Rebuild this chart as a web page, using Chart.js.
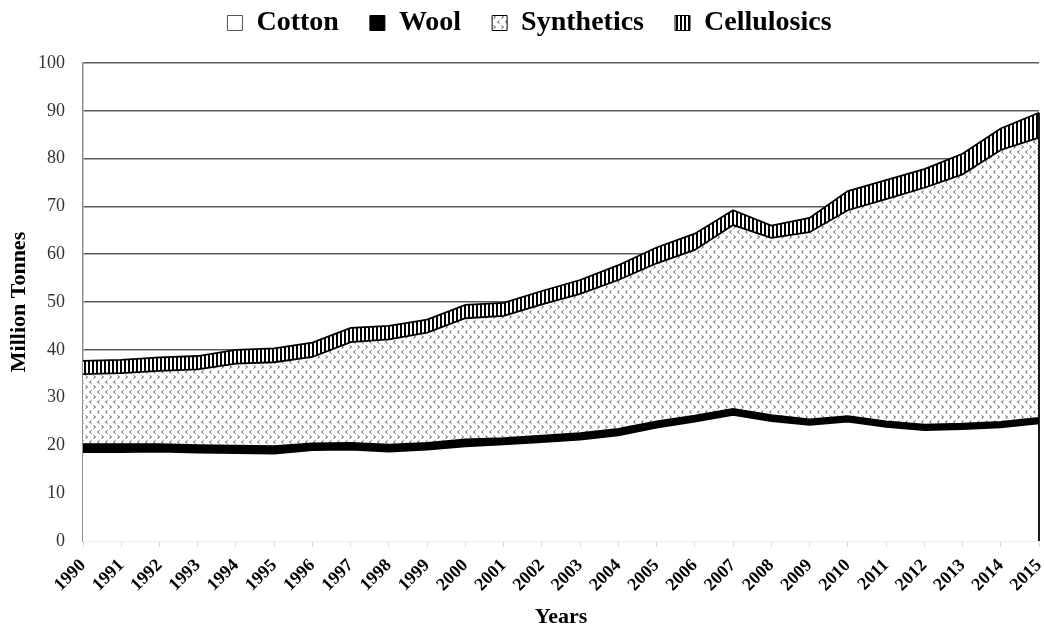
<!DOCTYPE html>
<html>
<head>
<meta charset="utf-8">
<script src="https://cdn.jsdelivr.net/npm/chart.js@4"></script>
<style>
  html, body { margin: 0; padding: 0; background: #fff; }
  #wrap { width: 1044px; height: 632px; }
</style>
</head>
<body>
<div id="wrap"><canvas id="fibreChart" width="1044" height="632"></canvas></div>
<script>
// Data (million tonnes)
const years = ['1990','1991','1992','1993','1994','1995','1996','1997','1998','1999','2000','2001','2002',
               '2003','2004','2005','2006','2007','2008','2009','2010','2011','2012','2013','2014','2015'];
const cotton = [18.6, 18.6, 18.7, 18.5, 18.4, 18.3, 19.0, 19.1, 18.7, 19.1, 19.8, 20.2, 20.7,
                21.2, 22.1, 23.7, 25.0, 26.4, 25.1, 24.3, 25.0, 23.9, 23.2, 23.4, 23.8, 24.6];
const wool = [1.6, 1.6, 1.5, 1.5, 1.5, 1.5, 1.4, 1.4, 1.4, 1.4, 1.4, 1.3, 1.3,
              1.3, 1.3, 1.3, 1.2, 1.2, 1.2, 1.1, 1.1, 1.1, 1.1, 1.1, 1.1, 1.1];
const synthetics = [14.7, 14.9, 15.4, 15.9, 17.2, 17.6, 18.1, 21.1, 22.1, 23.1, 25.4, 25.6, 27.5,
                    29.2, 31.2, 33.1, 34.7, 38.5, 37.1, 39.2, 43.1, 46.5, 49.6, 52.2, 56.9, 58.7];
const cellulosics = [2.8, 2.8, 2.8, 2.8, 2.9, 2.9, 3.0, 3.0, 2.8, 2.7, 2.8, 2.7, 2.8,
                     2.9, 3.1, 3.3, 3.4, 3.1, 2.6, 3.0, 4.0, 4.0, 3.9, 4.3, 4.5, 5.2];
const yTicks = [0, 10, 20, 30, 40, 50, 60, 70, 80, 90, 100];

const SERIF = '"Liberation Serif", "Times New Roman", serif';

// Fill patterns
function dotPattern() {
    const c = document.createElement('canvas');
    c.width = 8; c.height = 10;
    const g = c.getContext('2d');
    g.fillStyle = '#fff';
    g.fillRect(0, 0, 8, 10);
    g.strokeStyle = '#555';
    g.lineWidth = 1;
    g.beginPath();
    // "<" mark
    g.moveTo(3.5, 0.5); g.lineTo(1.5, 2); g.lineTo(3.5, 3.5);
    // ">" mark
    g.moveTo(5.5, 5.5); g.lineTo(7.5, 7); g.lineTo(5.5, 8.5);
    g.stroke();
    return g.createPattern(c, 'repeat');
}

function stripePattern() {
    const c = document.createElement('canvas');
    c.width = 4; c.height = 4;
    const g = c.getContext('2d');
    g.fillStyle = '#fff';
    g.fillRect(0, 0, 4, 4);
    g.fillStyle = '#000';
    g.fillRect(0, 0, 2, 4);
    return g.createPattern(c, 'repeat');
}

// Fixed legend height so the plot starts where the reference does
const legendHeight = {
    id: 'legendHeight',
    beforeInit(chart) {
        const fit = chart.legend.fit;
        chart.legend.fit = function () {
            fit.call(this);
            this.height = 85;
        };
    },
    afterLayout(chart) {
        // reference legend sits a little right of centre
        chart.legend.left += 10;
        chart.legend.right += 10;
    }
};

// Closing vertical edge at the last year
const rightEdge = {
    id: 'rightEdge',
    afterDatasetsDraw(chart) {
        const ctx = chart.ctx;
        const top = chart.getDatasetMeta(3).data[years.length - 1];
        const y0 = chart.scales.y.getPixelForValue(0);
        ctx.save();
        ctx.strokeStyle = '#000';
        ctx.lineWidth = 1.8;
        ctx.beginPath();
        ctx.moveTo(top.x, y0);
        ctx.lineTo(top.x, top.y);
        ctx.stroke();
        ctx.restore();
    }
};

const ctx = document.getElementById('fibreChart').getContext('2d');

new Chart(ctx, {
    type: 'line',
    data: {
        labels: years,
        datasets: [
            { label: 'Cotton', data: cotton, fill: 'origin', backgroundColor: '#fff',
              borderColor: '#000', borderWidth: 1.8 },
            { label: 'Wool', data: wool, fill: '-1', backgroundColor: '#000',
              borderColor: '#000', borderWidth: 2.2 },
            { label: 'Synthetics', data: synthetics, fill: '-1', backgroundColor: dotPattern(),
              borderColor: '#000', borderWidth: 1.8 },
            { label: 'Cellulosics', data: cellulosics, fill: '-1', backgroundColor: stripePattern(),
              borderColor: '#000', borderWidth: 1.8 }
        ]
    },
    options: {
        responsive: false,
        animation: false,
        layout: { padding: { top: -22, right: 5, left: 0, bottom: 0 } },
        elements: { point: { radius: 0 }, line: { tension: 0 } },
        plugins: {
            tooltip: { enabled: false },
            legend: {
                position: 'top',
                labels: {
                    color: '#000',
                    font: { family: SERIF, size: 28, weight: 'bold' },
                    boxWidth: 15,
                    boxHeight: 15,
                    padding: 31,
                    generateLabels(chart) {
                        return Chart.defaults.plugins.legend.labels.generateLabels(chart).map(item => {
                            item.lineWidth = 1;
                            item.strokeStyle = item.datasetIndex === 0 ? '#555' : '#000';
                            return item;
                        });
                    }
                }
            }
        },
        scales: {
            x: {
                grid: { display: true, drawOnChartArea: false, drawTicks: true, tickLength: 6, color: '#d9d9d9' },
                border: { color: '#d9d9d9', width: 1.5 },
                ticks: {
                    color: '#000',
                    font: { family: SERIF, size: 18, weight: 'bold' },
                    minRotation: 45,
                    maxRotation: 45,
                    autoSkip: false,
                    padding: 8
                },
                title: {
                    display: true,
                    text: 'Years',
                    color: '#000',
                    font: { family: SERIF, size: 22, weight: 'bold' },
                    padding: { top: 0, bottom: 1 }
                },
                afterFit(scale) {
                    scale.height = 91;
                    scale.paddingRight = 0;
                }
            },
            y: {
                stacked: true,
                min: 0,
                max: 100,
                afterBuildTicks(scale) { scale.ticks = yTicks.map(v => ({ value: v })); },
                grid: {
                    drawTicks: false,
                    color: c => c.tick && c.tick.value === 0 ? 'rgba(0,0,0,0)' : '#5a5a5a',
                    lineWidth: 1.5
                },
                border: { color: '#8c8c8c', width: 1.5 },
                ticks: {
                    color: '#333',
                    font: { family: SERIF, size: 18 },
                    padding: 18
                },
                title: {
                    display: true,
                    text: 'Million Tonnes',
                    color: '#000',
                    font: { family: SERIF, size: 22, weight: 'bold' },
                    padding: { top: 6, bottom: 4 }
                },
                afterFit(scale) { scale.width = 83; }
            }
        }
    },
    plugins: [legendHeight, rightEdge]
});
</script>
</body>
</html>
